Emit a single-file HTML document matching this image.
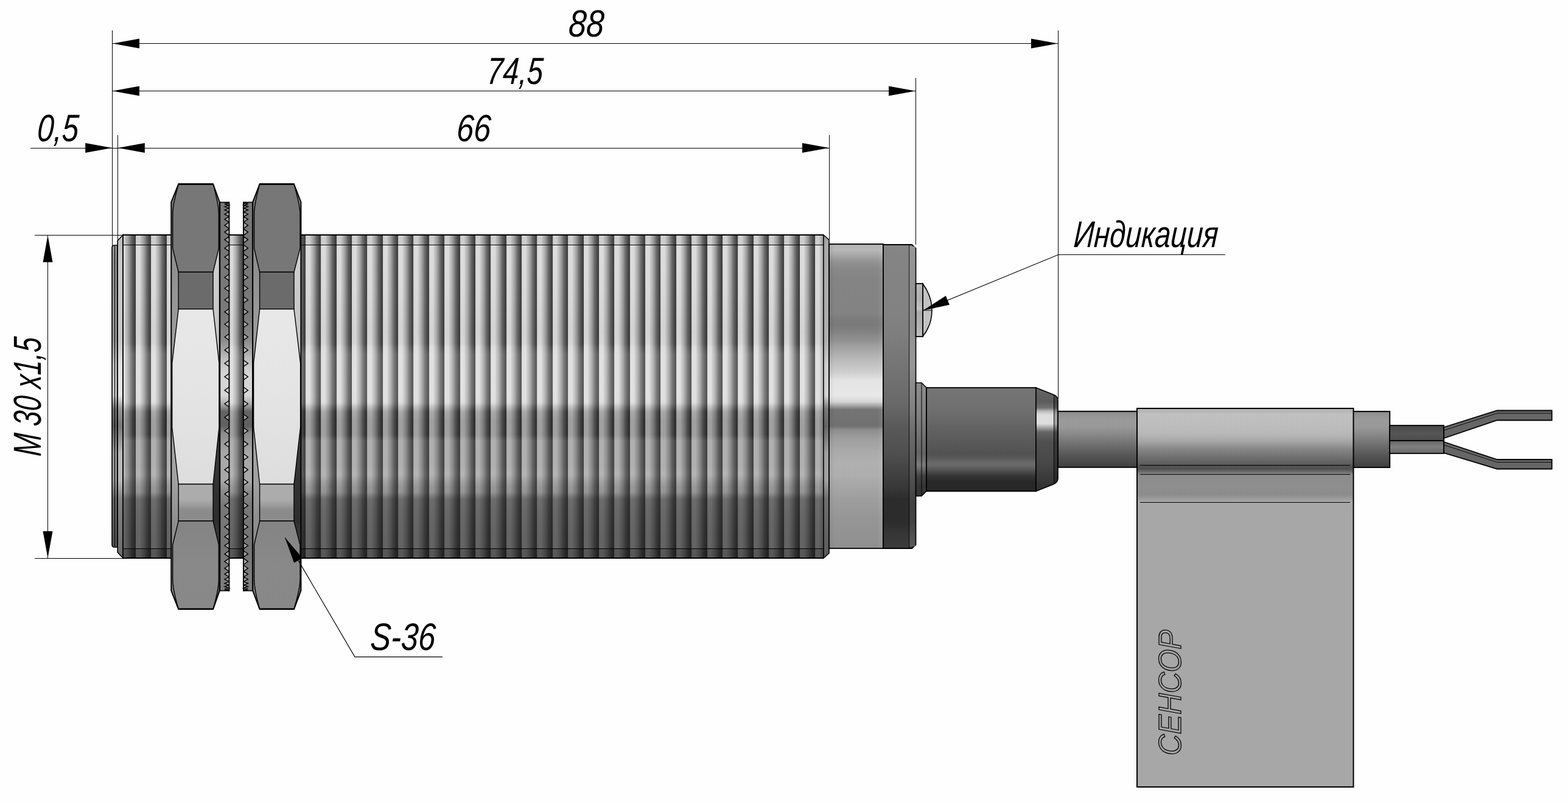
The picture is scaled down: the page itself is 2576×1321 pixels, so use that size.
<!DOCTYPE html>
<html lang="ru">
<head>
<meta charset="utf-8">
<title>M30x1,5</title>
<style>
html,body{margin:0;padding:0;background:#fefefe;overflow:hidden}
svg{display:block}
text{font-family:"Liberation Sans","DejaVu Sans",sans-serif;font-style:italic}
</style>
</head>
<body>
<svg width="2576" height="1321" viewBox="0 0 2576 1321">
<defs>
<linearGradient id="thr" x1="-5.500000000000057" y1="0" x2="19.869999999999944" y2="0" gradientUnits="userSpaceOnUse" spreadMethod="repeat"><stop offset="0.0000" stop-color="#cecece"/><stop offset="0.0300" stop-color="#d6d6d6"/><stop offset="0.0700" stop-color="#dcdcdc"/><stop offset="0.2700" stop-color="#dcdcdc"/><stop offset="0.3500" stop-color="#c8c8c8"/><stop offset="0.4700" stop-color="#b2b2b2"/><stop offset="0.5900" stop-color="#959595"/><stop offset="0.7100" stop-color="#6f6f6f"/><stop offset="0.8500" stop-color="#525252"/><stop offset="0.9650" stop-color="#3e3e3e"/><stop offset="1.0000" stop-color="#3c3c3c"/></linearGradient>
<linearGradient id="thrsh" x1="0" y1="386.0" x2="0" y2="917.0" gradientUnits="userSpaceOnUse"><stop offset="0.0000" stop-color="#282828" stop-opacity="0.080"/><stop offset="0.0301" stop-color="#282828" stop-opacity="0.080"/><stop offset="0.0320" stop-color="#000000" stop-opacity="0.000"/><stop offset="0.1582" stop-color="#000000" stop-opacity="0.010"/><stop offset="0.2994" stop-color="#000000" stop-opacity="0.040"/><stop offset="0.3352" stop-color="#000000" stop-opacity="0.030"/><stop offset="0.3465" stop-color="#ffffff" stop-opacity="0.040"/><stop offset="0.3691" stop-color="#ffffff" stop-opacity="0.130"/><stop offset="0.4972" stop-color="#ffffff" stop-opacity="0.130"/><stop offset="0.5160" stop-color="#ffffff" stop-opacity="0.120"/><stop offset="0.5292" stop-color="#737373" stop-opacity="0.190"/><stop offset="0.5461" stop-color="#000000" stop-opacity="0.228"/><stop offset="0.5725" stop-color="#000000" stop-opacity="0.272"/><stop offset="0.6177" stop-color="#000000" stop-opacity="0.272"/><stop offset="0.6365" stop-color="#515151" stop-opacity="0.316"/><stop offset="0.7137" stop-color="#515151" stop-opacity="0.316"/><stop offset="0.7420" stop-color="#5e5e5e" stop-opacity="0.316"/><stop offset="0.7608" stop-color="#464646" stop-opacity="0.370"/><stop offset="0.7797" stop-color="#393939" stop-opacity="0.418"/><stop offset="0.7947" stop-color="#393939" stop-opacity="0.430"/><stop offset="0.8060" stop-color="#2d2d2d" stop-opacity="0.520"/><stop offset="0.8173" stop-color="#232323" stop-opacity="0.600"/><stop offset="0.8550" stop-color="#212121" stop-opacity="0.620"/><stop offset="0.9303" stop-color="#1a1a1a" stop-opacity="0.620"/><stop offset="0.9699" stop-color="#1a1a1a" stop-opacity="0.620"/><stop offset="0.9718" stop-color="#0f0f0f" stop-opacity="0.646"/><stop offset="1.0000" stop-color="#0f0f0f" stop-opacity="0.646"/></linearGradient>
<linearGradient id="ff" x1="0" y1="403" x2="0" y2="907" gradientUnits="userSpaceOnUse"><stop offset="0.0000" stop-color="#969696"/><stop offset="0.0536" stop-color="#8c8c8c"/><stop offset="0.3115" stop-color="#969696"/><stop offset="0.3909" stop-color="#bebebe"/><stop offset="0.4901" stop-color="#c8c8c8"/><stop offset="0.5337" stop-color="#6e6e6e"/><stop offset="0.5893" stop-color="#5a5a5a"/><stop offset="0.6786" stop-color="#969696"/><stop offset="0.7679" stop-color="#969696"/><stop offset="0.8274" stop-color="#646464"/><stop offset="1.0000" stop-color="#505050"/></linearGradient>
<linearGradient id="ff2" x1="0" y1="396" x2="0" y2="908" gradientUnits="userSpaceOnUse"><stop offset="0.0000" stop-color="#bebebe"/><stop offset="0.0664" stop-color="#c8c8c8"/><stop offset="0.3203" stop-color="#c8c8c8"/><stop offset="0.3984" stop-color="#e1e1e1"/><stop offset="0.4961" stop-color="#e6e6e6"/><stop offset="0.5391" stop-color="#969696"/><stop offset="0.5938" stop-color="#787878"/><stop offset="0.6816" stop-color="#b9b9b9"/><stop offset="0.7695" stop-color="#b9b9b9"/><stop offset="0.8281" stop-color="#828282"/><stop offset="1.0000" stop-color="#6e6e6e"/></linearGradient>
<linearGradient id="tch" x1="0" y1="386" x2="0" y2="917" gradientUnits="userSpaceOnUse"><stop offset="0.0000" stop-color="#969696"/><stop offset="0.0264" stop-color="#aaaaaa"/><stop offset="0.3277" stop-color="#afafaf"/><stop offset="0.4030" stop-color="#cdcdcd"/><stop offset="0.4972" stop-color="#d2d2d2"/><stop offset="0.5386" stop-color="#787878"/><stop offset="0.5913" stop-color="#646464"/><stop offset="0.6761" stop-color="#a0a0a0"/><stop offset="0.7608" stop-color="#a0a0a0"/><stop offset="0.8173" stop-color="#6e6e6e"/><stop offset="1.0000" stop-color="#5a5a5a"/></linearGradient>
<linearGradient id="col" x1="0" y1="401" x2="0" y2="901" gradientUnits="userSpaceOnUse"><stop offset="0.0000" stop-color="#969696"/><stop offset="0.0060" stop-color="#b6b6b6"/><stop offset="0.0200" stop-color="#b8b8b8"/><stop offset="0.0380" stop-color="#a6a6a6"/><stop offset="0.0580" stop-color="#929292"/><stop offset="0.0820" stop-color="#888888"/><stop offset="0.1180" stop-color="#848484"/><stop offset="0.2280" stop-color="#838383"/><stop offset="0.2460" stop-color="#7c7c7c"/><stop offset="0.2660" stop-color="#7a7a7a"/><stop offset="0.2880" stop-color="#828282"/><stop offset="0.3180" stop-color="#929292"/><stop offset="0.3360" stop-color="#a0a0a0"/><stop offset="0.3780" stop-color="#b9b9b9"/><stop offset="0.4200" stop-color="#cecece"/><stop offset="0.4480" stop-color="#e4e4e4"/><stop offset="0.4980" stop-color="#e8e8e8"/><stop offset="0.5180" stop-color="#d6d6d6"/><stop offset="0.5300" stop-color="#aaaaaa"/><stop offset="0.5440" stop-color="#747474"/><stop offset="0.5980" stop-color="#707070"/><stop offset="0.6100" stop-color="#8c8c8c"/><stop offset="0.6380" stop-color="#9e9e9e"/><stop offset="0.6820" stop-color="#aaaaaa"/><stop offset="0.7180" stop-color="#b0b0b0"/><stop offset="0.7600" stop-color="#aeaeae"/><stop offset="0.7980" stop-color="#a6a6a6"/><stop offset="0.8380" stop-color="#9e9e9e"/><stop offset="0.8980" stop-color="#969696"/><stop offset="0.9920" stop-color="#909090"/><stop offset="1.0000" stop-color="#8c8c8c"/></linearGradient>
<linearGradient id="colh" x1="0" y1="0" x2="1" y2="0"><stop offset="0.0000" stop-color="#000" stop-opacity="0.060"/><stop offset="0.1000" stop-color="#000" stop-opacity="0.000"/><stop offset="0.9000" stop-color="#fff" stop-opacity="0.000"/><stop offset="1.0000" stop-color="#fff" stop-opacity="0.080"/></linearGradient>
<linearGradient id="cap" x1="0" y1="402" x2="0" y2="901" gradientUnits="userSpaceOnUse"><stop offset="0.0000" stop-color="#868686"/><stop offset="0.0361" stop-color="#848484"/><stop offset="0.2164" stop-color="#828282"/><stop offset="0.2966" stop-color="#7e7e7e"/><stop offset="0.4489" stop-color="#707070"/><stop offset="0.5271" stop-color="#686868"/><stop offset="0.6052" stop-color="#585858"/><stop offset="0.6814" stop-color="#505050"/><stop offset="0.7595" stop-color="#404040"/><stop offset="0.7976" stop-color="#383838"/><stop offset="0.8377" stop-color="#2c2c2c"/><stop offset="0.9138" stop-color="#2c2c2c"/><stop offset="0.9539" stop-color="#363636"/><stop offset="1.0000" stop-color="#3c3c3c"/></linearGradient>
<linearGradient id="cap2" x1="0" y1="402" x2="0" y2="901" gradientUnits="userSpaceOnUse"><stop offset="0.0000" stop-color="#969696"/><stop offset="0.0361" stop-color="#949494"/><stop offset="0.2906" stop-color="#929292"/><stop offset="0.3968" stop-color="#969696"/><stop offset="0.5411" stop-color="#808080"/><stop offset="0.5972" stop-color="#707070"/><stop offset="0.6653" stop-color="#646464"/><stop offset="0.7375" stop-color="#5a5a5a"/><stop offset="0.7916" stop-color="#4c4c4c"/><stop offset="0.8577" stop-color="#424242"/><stop offset="0.9158" stop-color="#444444"/><stop offset="0.9579" stop-color="#505050"/><stop offset="1.0000" stop-color="#5a5a5a"/></linearGradient>
<linearGradient id="wsh" x1="0" y1="332.4" x2="0" y2="970.6" gradientUnits="userSpaceOnUse"><stop offset="-0.0006" stop-color="#787878"/><stop offset="0.1059" stop-color="#767676"/><stop offset="0.2940" stop-color="#7a7a7a"/><stop offset="0.3566" stop-color="#8c8c8c"/><stop offset="0.4036" stop-color="#bebebe"/><stop offset="0.4428" stop-color="#d6d6d6"/><stop offset="0.4976" stop-color="#d6d6d6"/><stop offset="0.5196" stop-color="#aaaaaa"/><stop offset="0.5384" stop-color="#646464"/><stop offset="0.5760" stop-color="#606060"/><stop offset="0.5948" stop-color="#8c8c8c"/><stop offset="0.6465" stop-color="#a8a8a8"/><stop offset="0.7170" stop-color="#a8a8a8"/><stop offset="0.7421" stop-color="#8c8c8c"/><stop offset="0.7797" stop-color="#787878"/><stop offset="0.8894" stop-color="#747474"/><stop offset="0.9991" stop-color="#808080"/></linearGradient>
<linearGradient id="nband2" x1="0" y1="795.5" x2="0" y2="856" gradientUnits="userSpaceOnUse"><stop offset="0.0083" stop-color="#adadad"/><stop offset="0.4215" stop-color="#acacac"/><stop offset="0.5868" stop-color="#9a9a9a"/><stop offset="0.7025" stop-color="#8c8c8c"/><stop offset="0.8678" stop-color="#8a8a8a"/><stop offset="1.0000" stop-color="#8e8e8e"/></linearGradient>
<linearGradient id="nsl" x1="0" y1="302" x2="0" y2="1001" gradientUnits="userSpaceOnUse"><stop offset="0.0000" stop-color="#707070"/><stop offset="0.0472" stop-color="#787878"/><stop offset="0.1459" stop-color="#8c8c8c"/><stop offset="0.2074" stop-color="#909090"/><stop offset="0.2933" stop-color="#989898"/><stop offset="0.4192" stop-color="#a0a0a0"/><stop offset="0.5694" stop-color="#a8a8a8"/><stop offset="0.7053" stop-color="#a0a0a0"/><stop offset="0.7926" stop-color="#8e8e8e"/><stop offset="0.8426" stop-color="#8c8c8c"/><stop offset="1.0000" stop-color="#787878"/></linearGradient>
<linearGradient id="nsr" x1="0" y1="302" x2="0" y2="1001" gradientUnits="userSpaceOnUse"><stop offset="0.0000" stop-color="#808080"/><stop offset="0.0472" stop-color="#8c8c8c"/><stop offset="0.1459" stop-color="#d0d0d0"/><stop offset="0.2074" stop-color="#cccccc"/><stop offset="0.2933" stop-color="#c8c8c8"/><stop offset="0.4192" stop-color="#c8c8c8"/><stop offset="0.4835" stop-color="#969696"/><stop offset="0.5694" stop-color="#404040"/><stop offset="0.7053" stop-color="#323232"/><stop offset="0.7926" stop-color="#2e2e2e"/><stop offset="0.8426" stop-color="#404040"/><stop offset="0.9413" stop-color="#646464"/><stop offset="1.0000" stop-color="#767676"/></linearGradient>
<linearGradient id="nbot" x1="0" y1="856" x2="0" y2="1001" gradientUnits="userSpaceOnUse"><stop offset="0.0000" stop-color="#848484"/><stop offset="0.5103" stop-color="#898989"/><stop offset="1.0000" stop-color="#888888"/></linearGradient>
<linearGradient id="nlight" x1="0" y1="508" x2="0" y2="795" gradientUnits="userSpaceOnUse"><stop offset="0.0000" stop-color="#e8e8e8"/><stop offset="0.4948" stop-color="#e4e4e4"/><stop offset="1.0000" stop-color="#dddddd"/></linearGradient>
<linearGradient id="led" x1="0" y1="466" x2="0" y2="553" gradientUnits="userSpaceOnUse"><stop offset="0.0000" stop-color="#bababa"/><stop offset="0.2759" stop-color="#b0b0b0"/><stop offset="0.4828" stop-color="#c4c4c4"/><stop offset="0.5287" stop-color="#aaaaaa"/><stop offset="0.7931" stop-color="#b2b2b2"/><stop offset="1.0000" stop-color="#bebebe"/></linearGradient>
<linearGradient id="gl" x1="0" y1="629" x2="0" y2="815" gradientUnits="userSpaceOnUse"><stop offset="0.0000" stop-color="#767676"/><stop offset="0.0591" stop-color="#747474"/><stop offset="0.2312" stop-color="#707070"/><stop offset="0.3280" stop-color="#686868"/><stop offset="0.4892" stop-color="#5c5c5c"/><stop offset="0.6237" stop-color="#525252"/><stop offset="0.6613" stop-color="#585858"/><stop offset="0.7043" stop-color="#686868"/><stop offset="0.7312" stop-color="#686868"/><stop offset="0.7688" stop-color="#545454"/><stop offset="0.8226" stop-color="#343434"/><stop offset="0.8763" stop-color="#282828"/><stop offset="1.0000" stop-color="#282828"/></linearGradient>
<linearGradient id="glc" x1="0" y1="629" x2="0" y2="815" gradientUnits="userSpaceOnUse"><stop offset="0.0000" stop-color="#8c8c8c"/><stop offset="0.0591" stop-color="#8a8a8a"/><stop offset="0.2742" stop-color="#828282"/><stop offset="0.4892" stop-color="#707070"/><stop offset="0.6237" stop-color="#646464"/><stop offset="0.6828" stop-color="#707070"/><stop offset="0.7258" stop-color="#7c7c7c"/><stop offset="0.7688" stop-color="#646464"/><stop offset="0.8226" stop-color="#424242"/><stop offset="0.9194" stop-color="#343434"/><stop offset="1.0000" stop-color="#363636"/></linearGradient>
<linearGradient id="glt" x1="0" y1="637" x2="0" y2="807" gradientUnits="userSpaceOnUse"><stop offset="0.0000" stop-color="#646464"/><stop offset="0.1353" stop-color="#5c5c5c"/><stop offset="0.1941" stop-color="#707070"/><stop offset="0.2294" stop-color="#bebebe"/><stop offset="0.2647" stop-color="#dedede"/><stop offset="0.3471" stop-color="#dedede"/><stop offset="0.3824" stop-color="#aaaaaa"/><stop offset="0.4294" stop-color="#646464"/><stop offset="0.5176" stop-color="#505050"/><stop offset="0.7235" stop-color="#484848"/><stop offset="1.0000" stop-color="#2e2e2e"/></linearGradient>
<linearGradient id="cab" x1="0" y1="675" x2="0" y2="768" gradientUnits="userSpaceOnUse"><stop offset="0.0054" stop-color="#7c7c7c"/><stop offset="0.0538" stop-color="#929292"/><stop offset="0.1613" stop-color="#9a9a9a"/><stop offset="0.2903" stop-color="#989898"/><stop offset="0.4086" stop-color="#8a8a8a"/><stop offset="0.5376" stop-color="#787878"/><stop offset="0.6667" stop-color="#666666"/><stop offset="0.7957" stop-color="#555555"/><stop offset="0.9247" stop-color="#484848"/><stop offset="1.0000" stop-color="#3e3e3e"/></linearGradient>
<linearGradient id="w1" x1="0" y1="699" x2="0" y2="724" gradientUnits="userSpaceOnUse"><stop offset="0.0000" stop-color="#464646"/><stop offset="0.5200" stop-color="#565656"/><stop offset="1.0000" stop-color="#4c4c4c"/></linearGradient>
<linearGradient id="w2" x1="0" y1="724" x2="0" y2="745" gradientUnits="userSpaceOnUse"><stop offset="0.0000" stop-color="#646464"/><stop offset="0.4762" stop-color="#808080"/><stop offset="1.0000" stop-color="#686868"/></linearGradient>
<linearGradient id="lab" x1="0" y1="671" x2="0" y2="1293" gradientUnits="userSpaceOnUse"><stop offset="0.0000" stop-color="#b0b0b0"/><stop offset="0.0161" stop-color="#c0c0c0"/><stop offset="0.0418" stop-color="#bebebe"/><stop offset="0.0659" stop-color="#b8b8b8"/><stop offset="0.0820" stop-color="#acacac"/><stop offset="0.0916" stop-color="#a0a0a0"/><stop offset="0.1061" stop-color="#888888"/><stop offset="0.1286" stop-color="#707070"/><stop offset="0.1463" stop-color="#5e5e5e"/><stop offset="0.1503" stop-color="#545454"/><stop offset="0.1592" stop-color="#505050"/><stop offset="0.1656" stop-color="#646464"/><stop offset="0.1736" stop-color="#868686"/><stop offset="0.1768" stop-color="#8c8c8c"/><stop offset="0.2074" stop-color="#8e8e8e"/><stop offset="0.2283" stop-color="#8c8c8c"/><stop offset="0.2412" stop-color="#a0a0a0"/><stop offset="0.2476" stop-color="#a7a7a7"/><stop offset="0.2492" stop-color="#a7a7a7"/><stop offset="0.2878" stop-color="#a7a7a7"/><stop offset="1.0000" stop-color="#a7a7a7"/></linearGradient>
</defs>
<rect x="0" y="0" width="2576" height="1321" fill="#fefefe"/>
<!-- threaded body -->
<path d="M193.2,403 L188,403 Q184,403 184,407 L184,895 Q184,899 188,899 L193.2,899 Z" fill="url(#ff)" stroke="#000" stroke-width="1.6" />
<line x1="188.50" y1="404.00" x2="188.50" y2="898.00" stroke="#000" stroke-width="1.0" />
<polygon points="202.00,386.00 193.20,395.50 193.20,907.50 202.00,917.00" fill="url(#ff2)" stroke="#000" stroke-width="1.6" />
<rect x="202.00" y="386.00" width="1151.00" height="531.00" fill="url(#thr)" />
<rect x="202.00" y="386.00" width="1151.00" height="531.00" fill="url(#thrsh)" />
<line x1="202.00" y1="402.50" x2="1353.00" y2="402.50" stroke="#000" stroke-width="1.0" />
<line x1="202.00" y1="901.50" x2="1353.00" y2="901.50" stroke="#000" stroke-width="1.0" />
<line x1="201.00" y1="386.00" x2="1353.00" y2="386.00" stroke="#000" stroke-width="2.2" />
<line x1="201.00" y1="917.00" x2="1353.00" y2="917.00" stroke="#000" stroke-width="2.2" />
<line x1="202.00" y1="386.00" x2="202.00" y2="917.00" stroke="#000" stroke-width="1.8" />
<polygon points="1353.00,386.00 1362.00,394.00 1362.00,909.00 1353.00,917.00" fill="url(#tch)" stroke="#000" stroke-width="1.6" />
<!-- collar -->
<rect x="1362.00" y="401.00" width="89.00" height="500.00" fill="url(#col)" stroke="#000" stroke-width="1.8"/>
<rect x="1363.00" y="402.00" width="87.00" height="498.00" fill="url(#colh)" />
<!-- end cap -->
<path d="M1451,402 L1498,402 L1504.5,408 L1504.5,895 L1498,901 L1451,901 Z" fill="url(#cap)" stroke="#000" stroke-width="1.8" />
<rect x="1494.00" y="405.00" width="9.50" height="493.00" fill="url(#cap2)" />
<line x1="1493.60" y1="403.00" x2="1493.60" y2="900.00" stroke="#000" stroke-width="0.9" />
<!-- toothed washers -->
<rect x="361.40" y="332.40" width="15.20" height="638.20" fill="url(#wsh)" stroke="#000" stroke-width="1.6"/>
<polygon points="376.30,332.40 376.30,332.43 369.00,333.24 376.30,334.05 376.30,334.05 369.00,335.63 376.30,337.21 376.30,337.21 369.00,339.56 376.30,341.91 376.30,341.91 369.00,345.01 376.30,348.11 376.30,348.11 369.00,351.95 376.30,355.79 376.30,355.79 369.00,360.35 376.30,364.91 376.30,364.97 369.00,370.17 376.30,375.37 376.30,376.16 369.00,381.36 376.30,386.56 376.30,388.67 369.00,393.87 376.30,399.07 376.30,402.43 369.00,407.63 376.30,412.83 376.30,417.38 369.00,422.58 376.30,427.78 376.30,433.44 369.00,438.64 376.30,443.84 376.30,450.55 369.00,455.75 376.30,460.95 376.30,468.60 369.00,473.80 376.30,479.00 376.30,487.52 369.00,492.72 376.30,497.92 376.30,507.22 369.00,512.42 376.30,517.62 376.30,527.59 369.00,532.79 376.30,537.99 376.30,548.54 369.00,553.74 376.30,558.94 376.30,569.97 369.00,575.17 376.30,580.37 376.30,591.77 369.00,596.97 376.30,602.17 376.30,613.83 369.00,619.03 376.30,624.23 376.30,636.05 369.00,641.25 376.30,646.45 376.30,658.33 369.00,663.53 376.30,668.73 376.30,680.54 369.00,685.74 376.30,690.94 376.30,702.59 369.00,707.79 376.30,712.99 376.30,724.36 369.00,729.56 376.30,734.76 376.30,745.75 369.00,750.95 376.30,756.15 376.30,766.66 369.00,771.86 376.30,777.06 376.30,786.98 369.00,792.18 376.30,797.38 376.30,806.62 369.00,811.82 376.30,817.02 376.30,825.48 369.00,830.68 376.30,835.88 376.30,843.46 369.00,848.66 376.30,853.86 376.30,860.48 369.00,865.68 376.30,870.88 376.30,876.46 369.00,881.66 376.30,886.86 376.30,891.32 369.00,896.52 376.30,901.72 376.30,904.98 369.00,910.18 376.30,915.38 376.30,917.38 369.00,922.58 376.30,927.78 376.30,928.47 369.00,933.67 376.30,938.87 376.30,938.87 369.00,943.37 376.30,947.88 376.30,947.88 369.00,951.66 376.30,955.44 376.30,955.44 369.00,958.48 376.30,961.52 376.30,961.53 369.00,963.81 376.30,966.10 376.30,966.10 369.00,967.62 376.30,969.14 376.30,969.14 369.00,969.88 376.30,970.63 376.30,970.60" fill="#d8d8d8" stroke="#000" stroke-width="1.4" stroke-linejoin="miter" fill-opacity="0.5"/>
<rect x="399.80" y="332.40" width="15.20" height="638.20" fill="url(#wsh)" stroke="#000" stroke-width="1.6"/>
<polygon points="400.10,332.40 400.10,332.43 407.40,333.24 400.10,334.05 400.10,334.05 407.40,335.63 400.10,337.21 400.10,337.21 407.40,339.56 400.10,341.91 400.10,341.91 407.40,345.01 400.10,348.11 400.10,348.11 407.40,351.95 400.10,355.79 400.10,355.79 407.40,360.35 400.10,364.91 400.10,364.97 407.40,370.17 400.10,375.37 400.10,376.16 407.40,381.36 400.10,386.56 400.10,388.67 407.40,393.87 400.10,399.07 400.10,402.43 407.40,407.63 400.10,412.83 400.10,417.38 407.40,422.58 400.10,427.78 400.10,433.44 407.40,438.64 400.10,443.84 400.10,450.55 407.40,455.75 400.10,460.95 400.10,468.60 407.40,473.80 400.10,479.00 400.10,487.52 407.40,492.72 400.10,497.92 400.10,507.22 407.40,512.42 400.10,517.62 400.10,527.59 407.40,532.79 400.10,537.99 400.10,548.54 407.40,553.74 400.10,558.94 400.10,569.97 407.40,575.17 400.10,580.37 400.10,591.77 407.40,596.97 400.10,602.17 400.10,613.83 407.40,619.03 400.10,624.23 400.10,636.05 407.40,641.25 400.10,646.45 400.10,658.33 407.40,663.53 400.10,668.73 400.10,680.54 407.40,685.74 400.10,690.94 400.10,702.59 407.40,707.79 400.10,712.99 400.10,724.36 407.40,729.56 400.10,734.76 400.10,745.75 407.40,750.95 400.10,756.15 400.10,766.66 407.40,771.86 400.10,777.06 400.10,786.98 407.40,792.18 400.10,797.38 400.10,806.62 407.40,811.82 400.10,817.02 400.10,825.48 407.40,830.68 400.10,835.88 400.10,843.46 407.40,848.66 400.10,853.86 400.10,860.48 407.40,865.68 400.10,870.88 400.10,876.46 407.40,881.66 400.10,886.86 400.10,891.32 407.40,896.52 400.10,901.72 400.10,904.98 407.40,910.18 400.10,915.38 400.10,917.38 407.40,922.58 400.10,927.78 400.10,928.47 407.40,933.67 400.10,938.87 400.10,938.87 407.40,943.37 400.10,947.88 400.10,947.88 407.40,951.66 400.10,955.44 400.10,955.44 407.40,958.48 400.10,961.52 400.10,961.53 407.40,963.81 400.10,966.10 400.10,966.10 407.40,967.62 400.10,969.14 400.10,969.14 407.40,969.88 400.10,970.63 400.10,970.60" fill="#d8d8d8" stroke="#000" stroke-width="1.4" stroke-linejoin="miter" fill-opacity="0.5"/>
<!-- nuts -->
<polygon points="293.20,302.50 321.05,302.50 321.05,1000.80 293.20,1000.80 281.30,970.50 281.30,332.00" fill="url(#nsl)" stroke="none" stroke-width="1" />
<polygon points="321.05,302.50 350.10,302.50 360.80,332.00 360.80,970.50 350.10,1000.80 321.05,1000.80" fill="url(#nsr)" stroke="none" stroke-width="1" />
<path d="M293.2,302.5 L350.1,302.5 C354.1,318 359.4,336 359.4,352 L359.4,408 L350.1,447 L293.2,447 L283.7,408 L283.7,352 C283.7,336 289.2,318 293.2,302.5 Z" fill="#777777" stroke="#000" stroke-width="1.4" />
<rect x="293.20" y="447.00" width="56.90" height="60.80" fill="#6b6b6b" stroke="#000" stroke-width="1.4"/>
<polygon points="293.20,507.80 350.10,507.80 360.00,597.00 360.00,702.00 350.10,795.50 293.20,795.50 282.70,702.00 282.70,597.00" fill="url(#nlight)" stroke="#000" stroke-width="1.4" />
<rect x="293.20" y="795.50" width="56.90" height="60.50" fill="url(#nband2)" stroke="#000" stroke-width="1.4"/>
<path d="M293.2,856 L350.1,856 L359.4,895 L359.4,952 C359.4,968 354.1,986 350.1,1000.8 L293.2,1000.8 C289.2,986 283.7,968 283.7,952 L283.7,895 Z" fill="url(#nbot)" stroke="#000" stroke-width="1.4" />
<polygon points="293.20,302.50 350.10,302.50 360.80,332.00 360.80,970.50 350.10,1000.80 293.20,1000.80 281.30,970.50 281.30,332.00" fill="none" stroke="#000" stroke-width="2.0" stroke-linejoin="round"/>
<line x1="292.70" y1="302.50" x2="350.60" y2="302.50" stroke="#000" stroke-width="2.6" />
<line x1="292.70" y1="1000.80" x2="350.60" y2="1000.80" stroke="#000" stroke-width="2.6" />
<polygon points="426.60,302.50 454.80,302.50 454.80,1000.80 426.60,1000.80 415.20,970.50 415.20,332.00" fill="url(#nsl)" stroke="none" stroke-width="1" />
<polygon points="454.80,302.50 483.00,302.50 494.40,332.00 494.40,970.50 483.00,1000.80 454.80,1000.80" fill="url(#nsr)" stroke="none" stroke-width="1" />
<path d="M426.6,302.5 L483,302.5 C487,318 493,336 493,352 L493,408 L483,447 L426.6,447 L417.6,408 L417.6,352 C417.6,336 422.6,318 426.6,302.5 Z" fill="#777777" stroke="#000" stroke-width="1.4" />
<rect x="426.60" y="447.00" width="56.40" height="60.80" fill="#6b6b6b" stroke="#000" stroke-width="1.4"/>
<polygon points="426.60,507.80 483.00,507.80 493.60,597.00 493.60,702.00 483.00,795.50 426.60,795.50 416.60,702.00 416.60,597.00" fill="url(#nlight)" stroke="#000" stroke-width="1.4" />
<rect x="426.60" y="795.50" width="56.40" height="60.50" fill="url(#nband2)" stroke="#000" stroke-width="1.4"/>
<path d="M426.6,856 L483,856 L493,895 L493,952 C493,968 487,986 483,1000.8 L426.6,1000.8 C422.6,986 417.6,968 417.6,952 L417.6,895 Z" fill="url(#nbot)" stroke="#000" stroke-width="1.4" />
<polygon points="426.60,302.50 483.00,302.50 494.40,332.00 494.40,970.50 483.00,1000.80 426.60,1000.80 415.20,970.50 415.20,332.00" fill="none" stroke="#000" stroke-width="2.0" stroke-linejoin="round"/>
<line x1="426.10" y1="302.50" x2="483.50" y2="302.50" stroke="#000" stroke-width="2.6" />
<line x1="426.10" y1="1000.80" x2="483.50" y2="1000.80" stroke="#000" stroke-width="2.6" />
<!-- LED -->
<rect x="1504.60" y="466.00" width="11.60" height="87.00" fill="url(#led)" stroke="#000" stroke-width="1.8"/>
<path d="M1516.2,466.5 C1526,480 1531,496 1531,510 C1531,524 1526,540 1516.2,552.5 Z" fill="#c2c2c2" stroke="#000" stroke-width="1.6" />
<line x1="1516.50" y1="510.00" x2="1531.00" y2="510.00" stroke="#000" stroke-width="0.9" />
<!-- gland -->
<polygon points="1504.60,629.00 1514.00,629.00 1522.00,637.00 1522.00,807.00 1514.00,815.00 1504.60,815.00" fill="url(#glc)" stroke="#000" stroke-width="1.6" />
<line x1="1514.00" y1="629.00" x2="1514.00" y2="815.00" stroke="#000" stroke-width="1.0" />
<rect x="1522.00" y="637.00" width="180.00" height="170.00" fill="url(#gl)" stroke="#000" stroke-width="1.8"/>
<path d="M1702,637 L1731,648.5 Q1738,651.5 1738,658 L1738,786 Q1738,792.5 1731,795.5 L1702,807 Z" fill="url(#glt)" stroke="#000" stroke-width="1.6" />
<path d="M1731.5,649 Q1738,651.5 1738,658 L1738,786 Q1738,792.5 1731.5,795 Z" fill="#000" stroke="none" stroke-width="1" fill-opacity="0.28"/>
<line x1="1731.50" y1="650.00" x2="1731.50" y2="794.00" stroke="#000" stroke-width="0.9" />
<!-- cable -->
<rect x="1738.00" y="675.80" width="130.00" height="92.00" fill="url(#cab)" stroke="#000" stroke-width="1.9"/>
<rect x="2223.00" y="676.00" width="60.20" height="92.00" fill="url(#cab)" stroke="#000" stroke-width="1.9"/>
<!-- wires -->
<rect x="2283.00" y="699.00" width="89.00" height="25.00" fill="url(#w1)" stroke="#000" stroke-width="1.8"/>
<rect x="2283.00" y="724.00" width="89.00" height="21.00" fill="url(#w2)" stroke="#000" stroke-width="1.8"/>
<polygon points="2372.00,702.00 2459.50,674.50 2549.50,674.50 2549.50,690.50 2459.50,690.50 2372.00,720.00" fill="#666666" stroke="#000" stroke-width="1.8" />
<polyline points="2372.00,707.00 2459.50,679.00 2549.50,679.00" fill="none" stroke="#000" stroke-width="0.9" />
<polygon points="2372.00,726.00 2459.50,755.00 2549.50,755.00 2549.50,770.50 2459.50,770.50 2372.00,744.00" fill="#666666" stroke="#000" stroke-width="1.8" />
<polyline points="2372.00,731.00 2459.50,759.50 2549.50,759.50" fill="none" stroke="#000" stroke-width="0.9" />
<!-- label -->
<rect x="1868.00" y="671.00" width="355.50" height="622.00" fill="url(#lab)" stroke="#000" stroke-width="2"/>
<line x1="1873.00" y1="764.50" x2="2218.00" y2="764.50" stroke="#000" stroke-width="1.0" />
<line x1="1873.00" y1="779.50" x2="2218.00" y2="779.50" stroke="#000" stroke-width="1.0" />
<line x1="1873.00" y1="825.50" x2="2218.00" y2="825.50" stroke="#000" stroke-width="1.0" />
<!-- dimension lines -->
<line x1="184.50" y1="50.00" x2="184.50" y2="404.00" stroke="#000" stroke-width="1" shape-rendering="crispEdges"/>
<line x1="193.30" y1="222.00" x2="193.30" y2="396.00" stroke="#000" stroke-width="1" shape-rendering="crispEdges"/>
<line x1="1362.50" y1="222.00" x2="1362.50" y2="394.00" stroke="#000" stroke-width="1" shape-rendering="crispEdges"/>
<line x1="1504.50" y1="128.00" x2="1504.50" y2="402.00" stroke="#000" stroke-width="1" shape-rendering="crispEdges"/>
<line x1="1738.50" y1="50.00" x2="1738.50" y2="655.00" stroke="#000" stroke-width="1" shape-rendering="crispEdges"/>
<line x1="57.00" y1="386.30" x2="202.00" y2="386.30" stroke="#000" stroke-width="1" shape-rendering="crispEdges"/>
<line x1="57.00" y1="917.30" x2="201.00" y2="917.30" stroke="#000" stroke-width="1" shape-rendering="crispEdges"/>
<line x1="184.50" y1="71.50" x2="1738.50" y2="71.50" stroke="#000" stroke-width="1" shape-rendering="crispEdges"/>
<line x1="184.50" y1="149.50" x2="1504.50" y2="149.50" stroke="#000" stroke-width="1" shape-rendering="crispEdges"/>
<line x1="50.00" y1="243.00" x2="1362.50" y2="243.00" stroke="#000" stroke-width="1" shape-rendering="crispEdges"/>
<line x1="78.50" y1="386.30" x2="78.50" y2="917.30" stroke="#000" stroke-width="1" shape-rendering="crispEdges"/>
<polygon points="185.00,71.50 229.00,79.50 229.00,63.50" fill="#000" stroke="none" stroke-width="1" />
<polygon points="1738.00,71.50 1694.00,63.50 1694.00,79.50" fill="#000" stroke="none" stroke-width="1" />
<polygon points="185.00,149.50 229.00,157.50 229.00,141.50" fill="#000" stroke="none" stroke-width="1" />
<polygon points="1504.00,149.50 1460.00,141.50 1460.00,157.50" fill="#000" stroke="none" stroke-width="1" />
<polygon points="184.20,243.00 140.20,235.00 140.20,251.00" fill="#000" stroke="none" stroke-width="1" />
<polygon points="193.80,243.00 237.80,251.00 237.80,235.00" fill="#000" stroke="none" stroke-width="1" />
<polygon points="1362.00,243.00 1318.00,235.00 1318.00,251.00" fill="#000" stroke="none" stroke-width="1" />
<polygon points="78.50,386.80 70.50,430.80 86.50,430.80" fill="#000" stroke="none" stroke-width="1" />
<polygon points="78.50,916.80 86.50,872.80 70.50,872.80" fill="#000" stroke="none" stroke-width="1" />
<polyline points="468.30,883.60 583.00,1079.40 727.00,1079.40" fill="none" stroke="#000" stroke-width="1.2" />
<polygon points="468.30,883.60 483.09,924.76 496.90,916.69" fill="#000" stroke="none" stroke-width="1" />
<polyline points="1516.60,510.00 1738.50,418.50 2013.00,418.50" fill="none" stroke="#000" stroke-width="1.2" />
<polygon points="1516.60,510.00 1559.87,500.82 1553.77,486.03" fill="#000" stroke="none" stroke-width="1" />
<!-- texts -->
<text transform="translate(933.20,60.00) skewX(-3.5) scale(0.8354,1)" font-size="62.41" fill="#000">88</text>
<text transform="translate(799.03,137.70) skewX(-3.5) scale(0.7636,1)" font-size="61.99" fill="#000">74,5</text>
<text transform="translate(749.22,232.00) skewX(-3.5) scale(0.8096,1)" font-size="62.41" fill="#000">66</text>
<text transform="translate(60.30,232.30) skewX(-3.5) scale(0.7784,1)" font-size="62.84" fill="#000">0,5</text>
<text transform="translate(607.48,1068.00) skewX(-3.5) scale(0.8019,1)" font-size="63.12" fill="#000">S-36</text>
<text transform="translate(1762.99,406.40) skewX(-3.5) scale(0.7658,1)" font-size="61.17" fill="#000">Индикация</text>
<text transform="translate(67.20,750.33) rotate(-90) skewX(-3.5) scale(0.6941,1)" font-size="64.11" fill="#000">M 30 x1,5</text>
<text transform="translate(1939.50,1241.16) rotate(-90) scale(0.9493,1)" font-size="50.98" fill="none" stroke="#000" stroke-width="1.35">СЕНСОР</text>
</svg>
</body>
</html>
